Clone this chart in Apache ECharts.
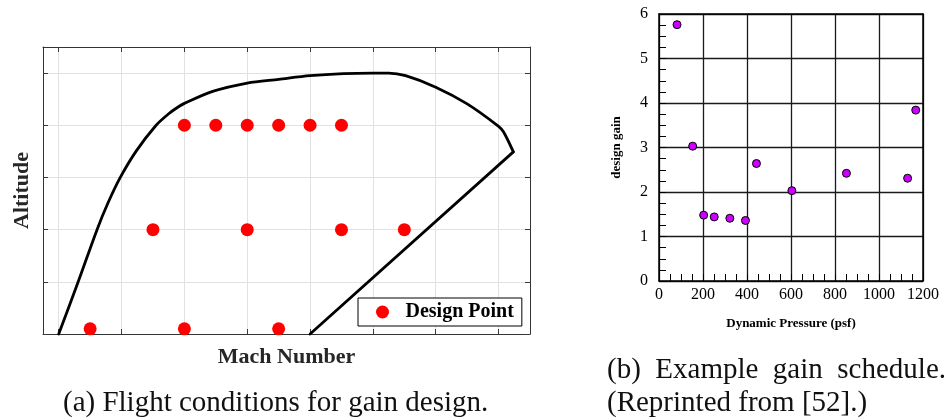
<!DOCTYPE html>
<html>
<head>
<meta charset="utf-8">
<script src="https://cdn.jsdelivr.net/npm/echarts@6/dist/echarts.min.js"></script>
<style>
  html, body { margin: 0; padding: 0; background: #fff; }
  #chart { width: 947px; height: 420px; }
</style>
</head>
<body>
<div id="chart"></div>
<script>
// ---- Panel (a): flight envelope and design points (unitless axes) ----
const machGridTicks = [0, 1, 2, 3, 4, 5, 6, 7];
const altGridTicks = [0, 1, 2, 3, 4, 5];
// curved part of the envelope (left boundary + ceiling)
const envelopeCurveMach = [0, 0.31, 0.61, 0.78, 0.98, 1.23, 1.55, 1.75, 1.9, 2.0, 2.45, 3.0, 3.5, 4.0, 4.53, 5.0, 5.25, 5.52, 6.0, 6.5, 7.0, 7.08, 7.235];
const envelopeCurveAlt  = [0, 1.0, 2.0, 2.5, 3.0, 3.5, 4.0, 4.22, 4.35, 4.42, 4.65, 4.81, 4.88, 4.95, 4.99, 5.0, 5.0, 4.95, 4.73, 4.41, 3.98, 3.87, 3.49];
// straight right boundary
const envelopeEdgeMach = [7.235, 4.0];
const envelopeEdgeAlt  = [3.49, 0];
const designMach = [2, 2.5, 3, 3.5, 4, 4.5, 1.5, 3, 4.5, 5.5, 0.5, 2, 3.5];
const designAlt  = [4, 4, 4, 4, 4, 4, 2, 2, 2, 2, 0.1, 0.1, 0.1];

// ---- Panel (b): example gain schedule ----
const dynPressure = [82, 153, 203, 251, 322, 393, 443, 604, 852, 1130, 1167];
const designGain  = [5.76, 3.03, 1.48, 1.44, 1.41, 1.36, 2.64, 2.03, 2.42, 2.31, 3.84];
const pressureTicks = [0, 200, 400, 600, 800, 1000, 1200];
const gainTicks = [0, 1, 2, 3, 4, 5, 6];

const captionA = '(a) Flight conditions for gain design.';
const captionB1Words = ['(b)', 'Example', 'gain', 'schedule.'];
const captionB2 = '(Reprinted from [52].)';

const serif = '"Liberation Serif", "Times New Roman", serif';
const zip = (a, b) => a.map((v, i) => [v, b[i]]);

// justified first caption line of (b): spread words between x0 and x1
const capSize = 29;
function justifiedWords(words, x0, x1, y) {
  const ctx = document.createElement('canvas').getContext('2d');
  ctx.font = capSize + 'px "Liberation Serif"';
  const widths = words.map(w => ctx.measureText(w).width);
  const total = widths.reduce((a, b) => a + b, 0);
  const gap = (x1 - x0 - total) / (words.length - 1);
  let x = x0;
  return words.map((w, i) => {
    const el = { type: 'text', x: x, y: y, style: { text: w, fontFamily: serif, fontSize: capSize, fill: '#111', align: 'left', verticalAlign: 'middle' } };
    x += widths[i] + gap;
    return el;
  });
}

const chart = echarts.init(document.getElementById('chart'), null, { renderer: 'canvas' });

const leftTick = { show: true, inside: true, length: 5, lineStyle: { color: '#3a3a3a', width: 1 } };
const leftLine = { show: true, onZero: false, lineStyle: { color: '#333', width: 1 } };
const lightSplit = { show: true, lineStyle: { color: '#e2e2e2', width: 1 } };

const option = {
  animation: false,
  backgroundColor: '#fff',
  grid: [
    { left: 43, top: 47, width: 487, height: 287, show: false },
    { left: 659, top: 14, width: 264, height: 267, show: false }
  ],
  xAxis: [
    {
      gridIndex: 0, type: 'value', min: -0.25, max: 7.5, position: 'bottom',
      axisLine: leftLine,
      axisTick: Object.assign({ customValues: machGridTicks }, leftTick),
      axisLabel: { show: false, customValues: machGridTicks },
      splitLine: lightSplit,
      name: 'Mach Number', nameLocation: 'middle', nameGap: 12,
      nameTextStyle: { fontFamily: serif, fontWeight: 'bold', fontSize: 22, color: '#262626', verticalAlign: 'top' }
    },
    {
      gridIndex: 0, type: 'value', min: -0.25, max: 7.5, position: 'top',
      axisLine: leftLine,
      axisTick: Object.assign({ customValues: machGridTicks }, leftTick),
      axisLabel: { show: false, customValues: machGridTicks },
      splitLine: { show: false }
    },
    {
      gridIndex: 1, type: 'value', min: 0, max: 1200, interval: 200, position: 'bottom',
      axisLine: { show: true, onZero: false, lineStyle: { color: '#000', width: 1.5 } },
      axisTick: { show: true, inside: true, length: 7, lineStyle: { color: '#000', width: 1 } },
      minorTick: { show: true, splitNumber: 4, length: 7, lineStyle: { color: '#000', width: 1 } },
      axisLabel: { show: true, margin: 6, fontFamily: serif, fontSize: 16, color: '#000',
                   formatter: v => pressureTicks.includes(v) ? String(v) : '' },
      splitLine: { show: true, lineStyle: { color: '#1a1a1a', width: 1.3 } },
      name: 'Dynamic Pressure (psf)', nameLocation: 'middle', nameGap: 36,
      nameTextStyle: { fontFamily: serif, fontWeight: 'bold', fontSize: 13, color: '#000', verticalAlign: 'top' }
    },
    {
      gridIndex: 1, type: 'value', min: 0, max: 1200, interval: 200, position: 'top',
      axisLine: { show: true, onZero: false, lineStyle: { color: '#000', width: 1.5 } },
      axisTick: { show: false }, axisLabel: { show: false }, splitLine: { show: false }
    }
  ],
  yAxis: [
    {
      gridIndex: 0, type: 'value', min: 0, max: 5.5, position: 'left',
      axisLine: leftLine,
      axisTick: Object.assign({ customValues: altGridTicks }, leftTick),
      axisLabel: { show: false, customValues: altGridTicks },
      splitLine: lightSplit,
      name: 'Altitude', nameLocation: 'middle', nameGap: 10,
      nameTextStyle: { fontFamily: serif, fontWeight: 'bold', fontSize: 22, color: '#262626' }
    },
    {
      gridIndex: 0, type: 'value', min: 0, max: 5.5, position: 'right',
      axisLine: leftLine,
      axisTick: Object.assign({ customValues: altGridTicks }, leftTick),
      axisLabel: { show: false, customValues: altGridTicks },
      splitLine: { show: false }
    },
    {
      gridIndex: 1, type: 'value', min: 0, max: 6, interval: 1, position: 'left',
      axisLine: { show: true, onZero: false, lineStyle: { color: '#000', width: 1.5 } },
      axisTick: { show: true, inside: true, length: 7, lineStyle: { color: '#000', width: 1 } },
      minorTick: { show: true, splitNumber: 4, length: 7, lineStyle: { color: '#000', width: 1 } },
      axisLabel: { show: true, margin: 11, fontFamily: serif, fontSize: 16, color: '#000',
                   formatter: v => gainTicks.includes(v) ? String(v) : '' },
      splitLine: { show: true, lineStyle: { color: '#1a1a1a', width: 1.3 } },
      name: 'design gain', nameLocation: 'middle', nameGap: 36,
      nameTextStyle: { fontFamily: serif, fontWeight: 'bold', fontSize: 13, color: '#000' }
    },
    {
      gridIndex: 1, type: 'value', min: 0, max: 6, interval: 1, position: 'right',
      axisLine: { show: true, onZero: false, lineStyle: { color: '#000', width: 1.5 } },
      axisTick: { show: false }, axisLabel: { show: false }, splitLine: { show: false }
    }
  ],
  legend: {
    data: ['Design Point'],
    left: 358, top: 298,
    orient: 'horizontal',
    icon: 'circle',
    itemWidth: 36, itemHeight: 13,
    padding: [4, 8, 4, 18],
    backgroundColor: '#fff',
    borderColor: '#000', borderWidth: 1,
    textStyle: { fontFamily: serif, fontWeight: 'bold', fontSize: 20, lineHeight: 20, color: '#000' },
    selectedMode: false
  },
  series: [
    {
      name: 'Envelope', type: 'line', xAxisIndex: 0, yAxisIndex: 0,
      data: zip(envelopeCurveMach, envelopeCurveAlt),
      smooth: 0.3,
      showSymbol: false, symbol: 'none', silent: true, clip: false,
      lineStyle: { color: '#000', width: 2.8, join: 'round', cap: 'round' }, z: 3
    },
    {
      name: 'EnvelopeEdge', type: 'line', xAxisIndex: 0, yAxisIndex: 0,
      data: zip(envelopeEdgeMach, envelopeEdgeAlt),
      showSymbol: false, symbol: 'none', silent: true, clip: false,
      lineStyle: { color: '#000', width: 2.8, join: 'round', cap: 'round' }, z: 3
    },
    {
      name: 'Design Point', type: 'scatter', xAxisIndex: 0, yAxisIndex: 0,
      data: zip(designMach, designAlt),
      symbol: 'circle', symbolSize: 13, clip: false,
      itemStyle: { color: '#ff0000', opacity: 1 }, z: 4
    },
    {
      name: 'Gain', type: 'scatter', xAxisIndex: 2, yAxisIndex: 2,
      data: zip(dynPressure, designGain),
      symbol: 'circle', symbolSize: 8, clip: false,
      itemStyle: { color: '#cc00ff', borderColor: '#000', borderWidth: 1, opacity: 1 }, z: 4
    }
  ],
  graphic: [
    { type: 'text', x: 63, y: 403, style: { text: captionA, fontFamily: serif, fontSize: capSize, fill: '#111', align: 'left', verticalAlign: 'middle' } },
    { type: 'text', x: 607, y: 403, style: { text: captionB2, fontFamily: serif, fontSize: capSize, fill: '#111', align: 'left', verticalAlign: 'middle' } }
  ].concat(justifiedWords(captionB1Words, 607, 946, 370))
};
chart.setOption(option);
</script>
</body>
</html>
